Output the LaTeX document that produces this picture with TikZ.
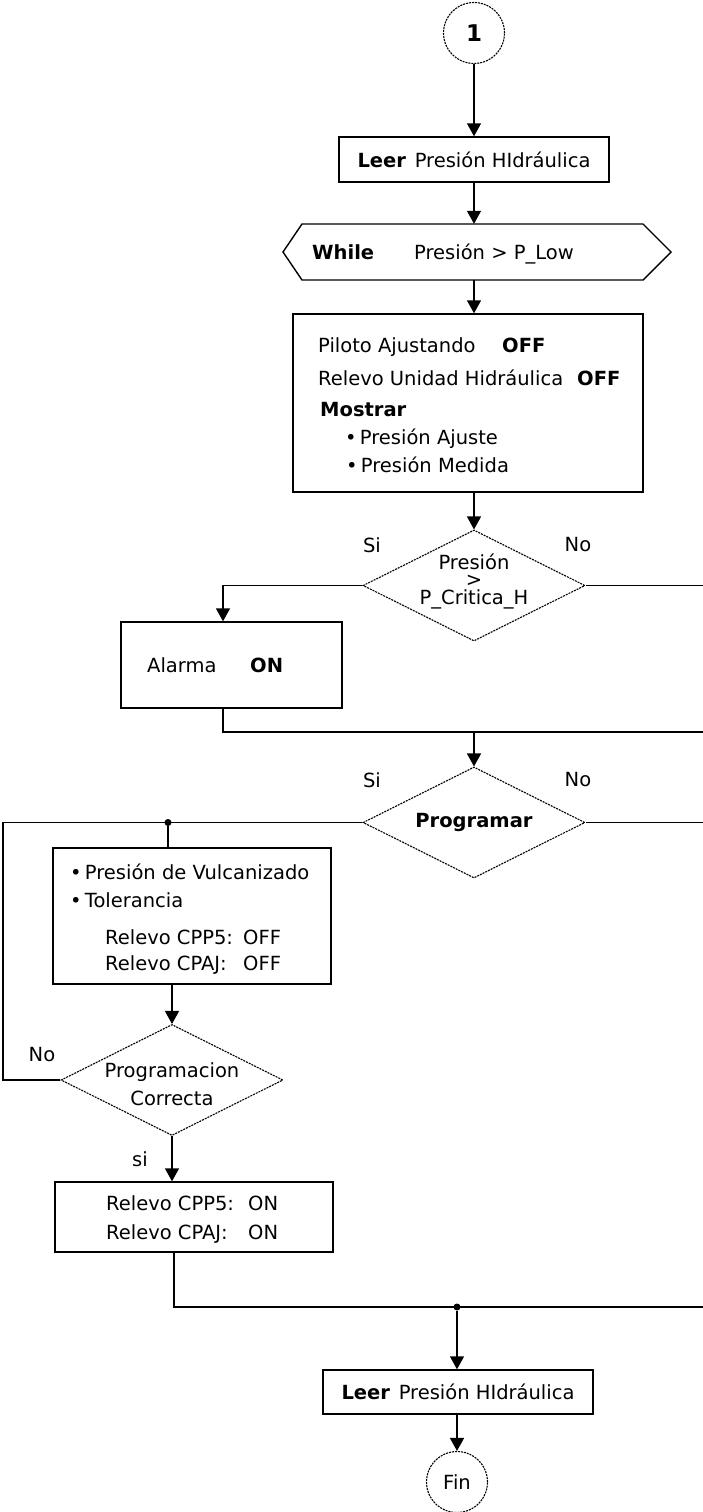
\documentclass[tikz,border=0pt]{standalone}
\usepackage{fontspec}
\setmainfont{DejaVu Sans}
\usetikzlibrary{arrows.meta,shapes.geometric}
\begin{document}
\begin{tikzpicture}[x=1pt,y=-1pt,
  font=\fontsize{19.5}{23}\selectfont,
  box/.style={draw,line width=1.4pt,inner sep=0pt},
  decision/.style={diamond,draw,line width=1.1pt,dash pattern=on 2pt off 1pt,
    inner sep=0pt,minimum width=222pt,minimum height=111pt},
  connector/.style={circle,draw,line width=1.1pt,dash pattern=on 2pt off 1pt,
    minimum size=61pt,inner sep=0pt},
  txt/.style={inner sep=0pt,anchor=base west},
  lbl/.style={inner sep=0pt},
  flow/.style={line width=1.4pt,-{Triangle[length=13pt,width=14pt]}},
  link/.style={line width=1.4pt},
  joint/.style={circle,fill,inner sep=0pt,minimum size=7pt},
]
\useasboundingbox (0,0) rectangle (703,1512);

% ---------- main column ----------
\node[connector,font=\fontsize{23}{26}\selectfont] (c1) at (474,33) {\textbf{1}};
\node[box,minimum width=270pt,minimum height=45pt] (leer1) at (474,159.5)
  {\textbf{Leer}\hspace{0.45em}Presión HIdráulica};

% while loop header (hexagon)
\node[inner sep=0pt,minimum width=388pt,minimum height=56pt] (while) at (477,252) {};
\draw[link] (283,252) -- (302,224) -- (643,224) -- (671,252) -- (643,280) -- (302,280) -- cycle;
\node[txt] at (312,259) {\textbf{While}};
\node[txt] at (414,259) {Presión > P\_Low};

% status block
\node[box,minimum width=350pt,minimum height=178pt] (info) at (468,403) {};
\node[txt] at (318,352) {Piloto Ajustando};
\node[txt] at (502,352) {\textbf{OFF}};
\node[txt] at (318,385) {Relevo Unidad Hidráulica};
\node[txt] at (577,385) {\textbf{OFF}};
\node[txt] at (320,416) {\textbf{Mostrar}};
\node[txt] at (345,444) {•\,Presión Ajuste};
\node[txt] at (346,472) {•\,Presión Medida};

% critical pressure test
\node[decision] (d1) at (474,585.5) {};
\node[lbl,align=center,font=\fontsize{19.5}{17.5}\selectfont] at (474,581) {Presión\\>\\P\_Critica\_H};
\node[lbl] at (372,545) {Si};
\node[lbl] at (578,545) {No};

\node[box,minimum width=221pt,minimum height=86pt] (alarm) at (231.5,665) {};
\node[txt] at (147,672) {Alarma};
\node[txt] at (250,672) {\textbf{ON}};

\coordinate (m1) at (474,732);
\coordinate (eR1) at (705,732);

% programming test
\node[decision] (d2) at (474,822.5) {};
\node[lbl] at (d2) {\textbf{Programar}};
\node[lbl] at (372,780) {Si};
\node[lbl] at (578,780) {No};

\node[joint] (j1) at (168,822.5) {};
\coordinate (loop) at (3,1080);

\node[box,minimum width=278pt,minimum height=136pt] (params) at (192,916) {};
\node[txt] at (70,879) {•\,Presión de Vulcanizado};
\node[txt] at (70,907) {•\,Tolerancia};
\node[txt] at (105,944) {Relevo CPP5:};
\node[txt] at (243,944) {OFF};
\node[txt] at (105,970) {Relevo CPAJ:};
\node[txt] at (243,970) {OFF};

\node[decision] (d3) at (172,1080) {};
\node[lbl,align=center,font=\fontsize{19.5}{28}\selectfont] at (172,1084) {Programacion\\Correcta};
\node[lbl] at (42,1055) {No};
\node[lbl] at (140,1159) {si};

\node[box,minimum width=278pt,minimum height=70pt] (relays) at (194,1217) {};
\node[txt] at (106,1210) {Relevo CPP5:};
\node[txt] at (248,1210) {ON};
\node[txt] at (106,1239) {Relevo CPAJ:};
\node[txt] at (248,1239) {ON};

\node[joint] (j2) at (457,1307) {};
\coordinate (eR2) at (705,1307);

\node[box,minimum width=270pt,minimum height=44pt] (leer2) at (458,1392)
  {\textbf{Leer}\hspace{0.45em}Presión HIdráulica};
\node[connector] (fin) at (457,1482) {Fin};

% ---------- connectors ----------
\draw[flow] (c1) -- (leer1);
\draw[flow] (leer1.south) -- (leer1.south |- while.north);
\draw[flow] (leer1.south |- while.south) -- (leer1.south |- info.north);
\draw[flow] (d1.north |- info.south) -- (d1.north);
\draw[flow] (d1.west) -| ([xshift=-8.5pt]alarm.north);
\draw[link] ([xshift=-8.5pt]alarm.south) |- (eR1);
\draw[link] (d1.east) -| (eR1);
\draw[flow] (m1) -- (d2.north);

\draw[link] (d3.west) -- (loop) |- (d2.west);
\draw[link] (j1) -- (j1 |- params.north);
\draw[flow] (d3.north |- params.south) -- (d3.north);
\draw[flow] (d3.south) -- (d3.south |- relays.north);
\draw[link] ([xshift=-20pt]relays.south) |- (eR2);
\draw[link] (d2.east) -| (eR2);
\draw[flow] (j2) -- (j2 |- leer2.north);
\draw[flow] (fin |- leer2.south) -- (fin.north);
\end{tikzpicture}
\end{document}
